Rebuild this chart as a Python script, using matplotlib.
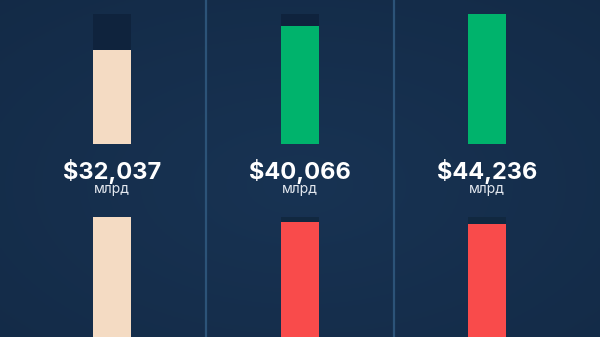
import numpy as np
import matplotlib
matplotlib.use("Agg")
import matplotlib.pyplot as plt

# ---- data ----
categories = ["A", "B", "C"]
top_values = [32037, 40066, 44236]          # млрд, labelled
top_colors = ["#f4dbc3", "#00b36c", "#00b36c"]
bottom_values = [49000, 47200, 46500]       # estimated (cropped bars)
bottom_colors = ["#f4dbc3", "#f94b4b", "#f94b4b"]
labels = ["$32,037", "$40,066", "$44,236"]
unit = "млрд"

W, H = 600, 337
fig = plt.figure(figsize=(6, 3.37), dpi=100)

# background
bg = fig.add_axes([0, 0, 1, 1])
yy, xx = np.mgrid[0:1:200j, 0:1:360j]
r = np.sqrt((xx - 0.5) ** 2 + (yy - 0.45) ** 2)
c0 = np.array([0x18, 0x33, 0x53]) / 255
c1 = np.array([0x13, 0x2a, 0x46]) / 255
t = np.clip(r / 0.8, 0, 1)[..., None]
img = c0 * (1 - t) + c1 * t
bg.imshow(img, extent=[0, 1, 0, 1], aspect="auto", origin="lower")
bg.set_xlim(0, 1); bg.set_ylim(0, 1)
bg.axis("off")
for xd in [205.5, 393.5]:
    bg.axvline(xd / W, color="#2c5378", lw=1.6)

x = np.arange(len(categories))
left = 18.5 / W
width = 562.5 / W
bw = 38 / 187.5

# top panel
ymax_top = max(top_values)
px_per = 130 / ymax_top
ax1 = fig.add_axes([left, (H - 144) / H, width, 130 / H])
ax1.bar(x, [ymax_top] * 3, width=bw, color="#0f233d", zorder=1)
ax1.bar(x, top_values, width=bw, color=top_colors, zorder=2)
ax1.set_xlim(-0.5, 2.5)
ax1.set_ylim(0, ymax_top)
ax1.axis("off")

# bottom panel (same scale, base below the frame)
ymax_bot = max(bottom_values)
hb = ymax_bot * px_per
ax2 = fig.add_axes([left, (H - 217 - hb) / H, width, hb / H])
ax2.bar(x, [ymax_bot] * 3, width=bw, color="#112840", zorder=1)
ax2.bar(x, bottom_values, width=bw, color=bottom_colors, zorder=2)
ax2.set_xlim(-0.5, 2.5)
ax2.set_ylim(0, ymax_bot)
ax2.axis("off")

# labels
for i, lab in enumerate(labels):
    xc = (18.5 + (i + 0.5) * 187.5) / W
    fig.text(xc, 1 - 171.5 / H, lab, ha="center", va="center",
             fontsize=17, fontweight="bold", color="white", family="Inter")
    fig.text(xc, 1 - 189.5 / H, unit, ha="center", va="center",
             fontsize=10, color="#e3e8ef", family="Inter")

fig.savefig("out.png", dpi=100)
